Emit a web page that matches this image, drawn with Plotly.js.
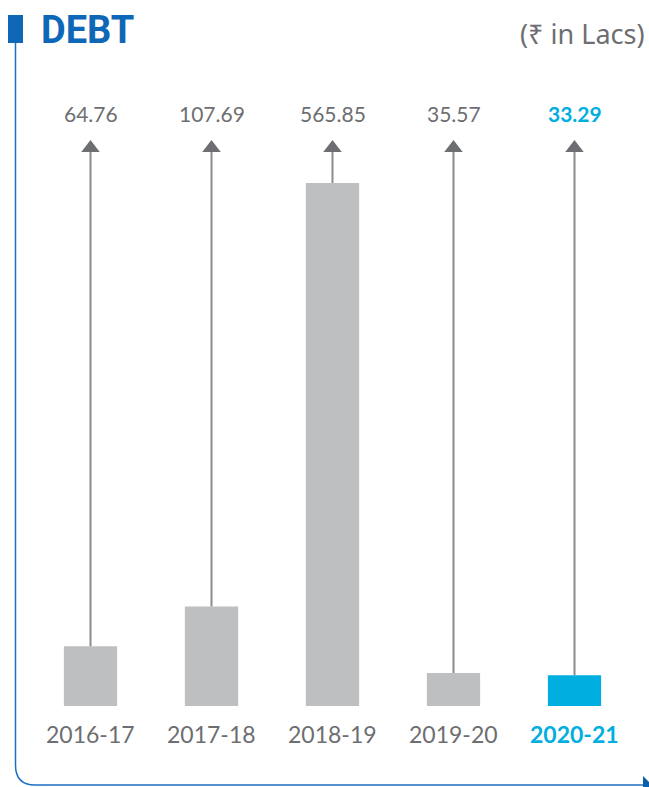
<!DOCTYPE html>
<html>
<head>
<meta charset="utf-8">
<script src="https://cdn.plot.ly/plotly-3.0.1.min.js"></script>
<style>
  html, body { margin: 0; padding: 0; background: #ffffff; }
  #chart { width: 649px; height: 787px; }
</style>
</head>
<body>
<div id="chart"></div>
<script>
// Debt by financial year (₹ in Lacs)
var years = ['2016-17', '2017-18', '2018-19', '2019-20', '2020-21'];
var debt = [64.76, 107.69, 565.85, 35.57, 33.29];
var valueLabels = ['64.76', '107.69', '565.85', '35.57', '33.29'];
var chartTitle = 'DEBT';
var unitNote = '(₹ in Lacs)';

// styling
var W = 649, H = 787;
var M = { l: 30, r: 14, t: 148, b: 81 };
var plotW = W - M.l - M.r, plotH = H - M.t - M.b;
var BLUE = '#0f67b7';
var CYAN = '#00aee0';
var GREY_BAR = '#bebfc1';
var GREY_TEXT = '#6d6e71';
var highlight = years.length - 1;

// axis top leaves room for the arrow heads above the tallest bar
var yTop = 603.7;

// pixel -> paper helpers for the decorative frame
function px(x) { return (x - M.l) / plotW; }
function py(y) { return (H - M.b - y) / plotH; }

var barColors = years.map(function (_, i) { return i === highlight ? CYAN : GREY_BAR; });

var bars = {
  type: 'bar',
  x: years,
  y: debt,
  width: 0.44,
  marker: { color: barColors, line: { width: 0 } },
  hoverinfo: 'x+y',
  showlegend: false
};

// stems from each bar top up to the arrow head
var stemX = [], stemY = [];
years.forEach(function (yr, i) {
  stemX.push(yr, yr, null);
  stemY.push(debt[i], yTop, null);
});
var stems = {
  type: 'scatter',
  mode: 'lines',
  x: stemX,
  y: stemY,
  line: { color: '#8c8c8e', width: 2 },
  hoverinfo: 'skip',
  showlegend: false,
  cliponaxis: false
};

var heads = {
  type: 'scatter',
  mode: 'markers',
  x: years,
  y: years.map(function () { return yTop; }),
  marker: { symbol: 'triangle-up', size: 16, color: '#6d6e71', line: { width: 0 } },
  hoverinfo: 'skip',
  showlegend: false,
  cliponaxis: false
};

var annotations = [];
years.forEach(function (yr, i) {
  var hi = i === highlight;
  annotations.push({
    x: yr, y: 1, xref: 'x', yref: 'paper',
    yanchor: 'middle', yshift: 35,
    text: valueLabels[i], showarrow: false,
    font: { family: 'Lato, sans-serif', size: 21, color: hi ? CYAN : GREY_TEXT, weight: hi ? 700 : 400 }
  });
  annotations.push({
    x: yr, y: 0, xref: 'x', yref: 'paper',
    yanchor: 'middle', yshift: -28,
    text: yr, showarrow: false,
    font: { family: 'Lato, sans-serif', size: 23, color: hi ? CYAN : GREY_TEXT, weight: hi ? 700 : 400 }
  });
});

annotations.push({
  x: px(39), y: py(30), xref: 'paper', yref: 'paper',
  xanchor: 'left', yanchor: 'middle',
  text: chartTitle, showarrow: false,
  font: { family: 'Roboto, sans-serif', size: 38, color: BLUE, weight: 700 }
});
annotations.push({
  x: px(647), y: py(33), xref: 'paper', yref: 'paper',
  xanchor: 'right', yanchor: 'middle',
  text: unitNote, showarrow: false,
  font: { family: '"Noto Sans", sans-serif', size: 27, color: GREY_TEXT }
});

var shapes = [
  // title marker block
  {
    type: 'rect', xref: 'paper', yref: 'paper',
    x0: px(8), x1: px(23), y0: py(43), y1: py(15),
    fillcolor: BLUE, line: { width: 0 }
  },
  // frame: down the left side, rounded corner, along the bottom
  {
    type: 'path', xref: 'paper', yref: 'paper',
    path: 'M ' + px(15.5) + ' ' + py(43) +
          ' L ' + px(15.5) + ' ' + py(765) +
          ' Q ' + px(15.5) + ' ' + py(785) + ' ' + px(35) + ' ' + py(785) +
          ' L ' + px(644) + ' ' + py(785),
    line: { color: '#1c70c2', width: 1.5 }
  },
  // small pointer at the end of the bottom rule
  {
    type: 'path', xref: 'paper', yref: 'paper',
    path: 'M ' + px(643) + ' ' + py(776) +
          ' L ' + px(652) + ' ' + py(785) +
          ' L ' + px(643) + ' ' + py(792) + ' Z',
    fillcolor: '#0d5ea8', line: { width: 0 }
  }
];

var layout = {
  width: W, height: H,
  margin: M,
  paper_bgcolor: '#ffffff',
  plot_bgcolor: '#ffffff',
  showlegend: false,
  bargap: 0.56,
  xaxis: {
    type: 'category',
    range: [-0.5, years.length - 0.5],
    showticklabels: false, showgrid: false, zeroline: false, showline: false, ticks: ''
  },
  yaxis: {
    range: [0, yTop],
    showticklabels: false, showgrid: false, zeroline: false, showline: false, ticks: ''
  },
  annotations: annotations,
  shapes: shapes
};

Plotly.newPlot('chart', [bars, stems, heads], layout, { displayModeBar: false, staticPlot: true });
</script>
</body>
</html>
